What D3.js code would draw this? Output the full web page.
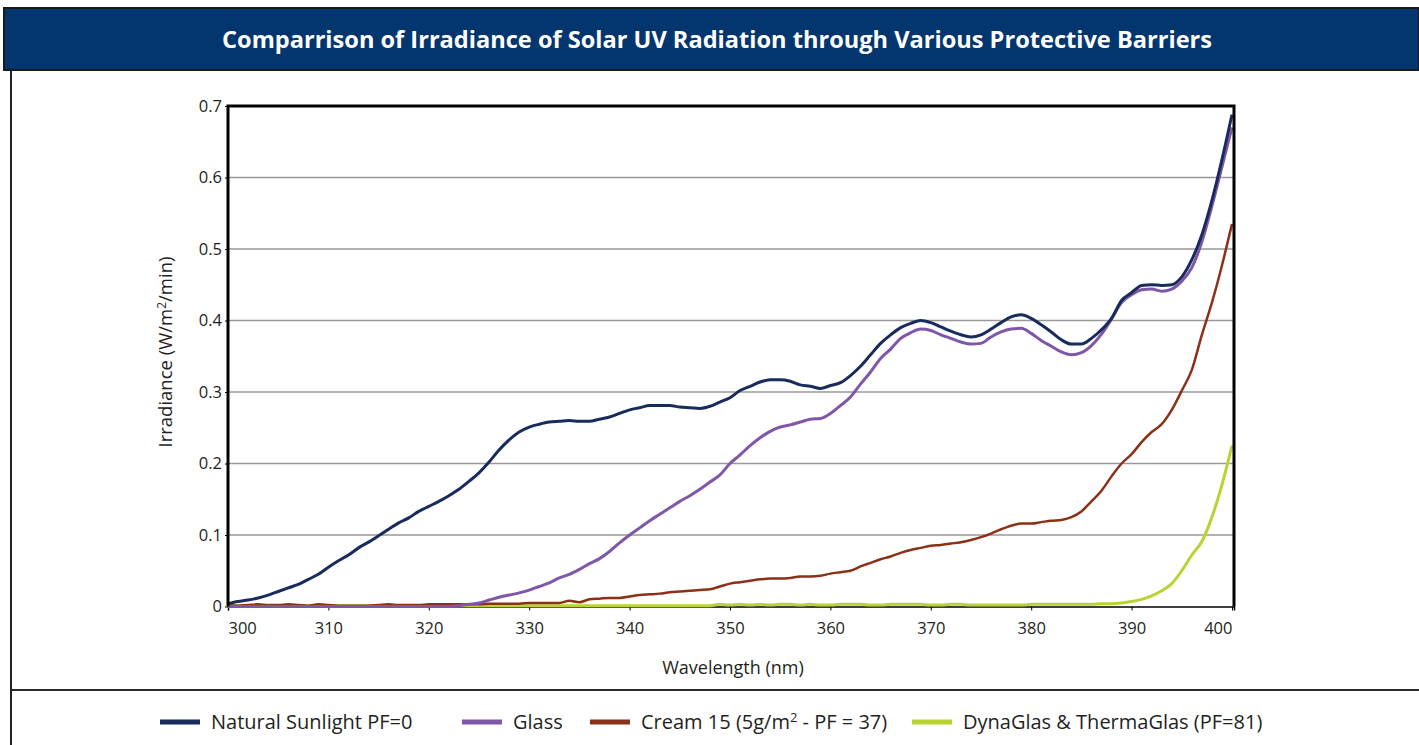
<!DOCTYPE html>
<html>
<head>
<meta charset="utf-8">
<script src="https://cdn.jsdelivr.net/npm/d3@7"></script>
<style>
  body { margin: 0; background: #fff; }
  svg { display: block; font-family: "Open Sans", "DejaVu Sans", sans-serif; }
</style>
</head>
<body>
<div id="chart"></div>
<script>
// wavelength (nm), one reading per nm
var wavelengths = d3.range(300, 401);

var sunlight = [0.004,0.007,0.009,0.012,0.016,0.021,0.026,0.031,0.038,0.045,
  0.055,0.064,0.072,0.082,0.090,0.099,0.108,0.117,0.124,0.133,
  0.140,0.147,0.155,0.164,0.175,0.187,0.202,0.219,0.233,0.244,
  0.251,0.255,0.258,0.259,0.260,0.259,0.259,0.262,0.265,0.270,
  0.275,0.278,0.281,0.281,0.281,0.279,0.278,0.277,0.280,0.286,
  0.292,0.302,0.308,0.314,0.317,0.317,0.315,0.310,0.308,0.305,
  0.309,0.313,0.323,0.336,0.352,0.368,0.380,0.390,0.396,0.400,
  0.397,0.391,0.385,0.380,0.377,0.380,0.388,0.397,0.405,0.408,
  0.403,0.394,0.384,0.373,0.367,0.367,0.375,0.387,0.403,0.428,
  0.439,0.449,0.450,0.449,0.450,0.461,0.485,0.520,0.568,0.625,
  0.688];

var glass = [0,0,0,0,0,0,0,0,0,0,
  0,0,0,0,0,0,0,0,0,0,
  0,0,0,0.001,0.003,0.005,0.009,0.013,0.016,0.019,
  0.023,0.028,0.033,0.040,0.045,0.052,0.060,0.067,0.077,0.089,
  0.100,0.110,0.120,0.129,0.138,0.147,0.155,0.164,0.174,0.184,
  0.200,0.212,0.225,0.236,0.245,0.251,0.254,0.258,0.262,0.263,
  0.270,0.281,0.293,0.311,0.328,0.347,0.360,0.375,0.383,0.388,
  0.386,0.380,0.375,0.370,0.367,0.368,0.377,0.384,0.388,0.389,
  0.382,0.372,0.364,0.356,0.352,0.355,0.365,0.381,0.402,0.425,
  0.436,0.443,0.444,0.441,0.444,0.455,0.474,0.510,0.560,0.615,
  0.670];

var cream = [0.002,0.001,0.002,0.003,0.002,0.002,0.003,0.002,0.001,0.003,
  0.002,0.001,0.001,0.001,0.001,0.002,0.003,0.002,0.002,0.002,
  0.003,0.003,0.003,0.003,0.003,0.003,0.004,0.004,0.004,0.004,
  0.005,0.005,0.005,0.005,0.008,0.006,0.010,0.011,0.012,0.012,
  0.014,0.016,0.017,0.018,0.020,0.021,0.022,0.023,0.024,0.028,
  0.032,0.034,0.036,0.038,0.039,0.039,0.040,0.042,0.042,0.043,
  0.046,0.048,0.050,0.056,0.061,0.066,0.070,0.075,0.079,0.082,
  0.085,0.086,0.088,0.090,0.093,0.097,0.102,0.108,0.113,0.116,
  0.116,0.118,0.120,0.121,0.125,0.133,0.147,0.162,0.182,0.200,
  0.213,0.230,0.244,0.255,0.275,0.302,0.331,0.380,0.425,0.477,
  0.535];

var dynaglas = [0.001,0.001,0.001,0.001,0.001,0.001,0.001,0.001,0.001,0.001,
  0.001,0.001,0.001,0.001,0.001,0.001,0.001,0.001,0.001,0.001,
  0.001,0.001,0.001,0.001,0.001,0.001,0.001,0.001,0.001,0.001,
  0.001,0.001,0.001,0.001,0.001,0.001,0.001,0.001,0.001,0.001,
  0.001,0.001,0.001,0.001,0.001,0.001,0.001,0.001,0.001,0.003,
  0.002,0.003,0.002,0.003,0.002,0.003,0.003,0.002,0.003,0.002,
  0.002,0.003,0.003,0.003,0.002,0.002,0.003,0.003,0.003,0.003,
  0.002,0.002,0.003,0.003,0.002,0.002,0.002,0.002,0.002,0.002,
  0.003,0.003,0.003,0.003,0.003,0.003,0.003,0.004,0.004,0.005,
  0.007,0.010,0.015,0.022,0.032,0.050,0.072,0.091,0.125,0.170,
  0.225];

var seriesNames = ["Natural Sunlight PF=0", "Glass", "Cream 15 (5g/m2 - PF = 37)", "DynaGlas & ThermaGlas (PF=81)"];
var seriesColors = ["#172b5c", "#8057a8", "#8b3117", "#b9d334"];
var xTicks = [300, 310, 320, 330, 340, 350, 360, 370, 380, 390, 400];
var yTicks = [0, 0.1, 0.2, 0.3, 0.4, 0.5, 0.6, 0.7];

var W = 1419, H = 745;
var svg = d3.select("#chart").append("svg")
    .attr("width", W)
    .attr("height", H);

// title band
svg.append("rect")
    .attr("x", 4).attr("y", 8).attr("width", W - 4).attr("height", 62)
    .attr("fill", "#03366f")
    .attr("stroke", "#1a1a1a").attr("stroke-width", 2);
svg.append("text")
    .attr("x", 717).attr("y", 48)
    .attr("text-anchor", "middle")
    .attr("font-size", 23).attr("font-weight", "bold")
    .attr("fill", "#fff")
    .attr("textLength", 990).attr("lengthAdjust", "spacingAndGlyphs")
    .text("Comparrison of Irradiance of Solar UV Radiation through Various Protective Barriers");

// outer frame lines
svg.append("line").attr("x1", 11).attr("x2", 11).attr("y1", 70).attr("y2", H)
    .attr("stroke", "#222").attr("stroke-width", 2);
svg.append("line").attr("x1", 11).attr("x2", W).attr("y1", 690).attr("y2", 690)
    .attr("stroke", "#2a2a2a").attr("stroke-width", 2);

var x = d3.scaleLinear().domain([300, 400.2]).range([228, 1234]);
var y = d3.scaleLinear().domain([0, 0.7]).range([606.5, 106]);

// gridlines
svg.append("g")
  .selectAll("line")
  .data(yTicks.filter(function(d) { return d > 0 && d < 0.7; }))
  .enter()
  .append("line")
    .attr("x1", x(300)).attr("x2", x(400.2))
    .attr("y1", function(d) { return y(d); })
    .attr("y2", function(d) { return y(d); })
    .attr("stroke", "#999").attr("stroke-width", 1.5);

// x axis
var xAxis = svg.append("g")
    .attr("transform", "translate(0," + y(0) + ")")
    .call(d3.axisBottom(x).tickValues(xTicks).tickSize(4).tickPadding(12).tickFormat(d3.format("d")));
xAxis.select(".domain").attr("stroke", "#000").attr("stroke-width", 1.5);
xAxis.selectAll("line").attr("stroke", "#000");
xAxis.selectAll("text")
    .attr("font-size", 16.5).attr("fill", "#231f20")
    .attr("font-family", "'Open Sans', sans-serif")
    .attr("text-anchor", function(d) { return d === 300 ? "start" : (d === 400 ? "end" : "middle"); });

// y axis
var yAxis = svg.append("g")
    .attr("transform", "translate(" + x(300) + ",0)")
    .call(d3.axisLeft(y).tickValues(yTicks).tickSize(3).tickPadding(3)
      .tickFormat(function(d) { return d === 0 ? "0" : d3.format(".1f")(d); }));
yAxis.select(".domain").remove();
yAxis.selectAll("line").attr("stroke", "#000");
yAxis.selectAll("text")
    .attr("font-size", 16.5).attr("fill", "#231f20")
    .attr("font-family", "'Open Sans', sans-serif");

// series lines
var rows = wavelengths.map(function(w, i) {
  return { w: w, v: [sunlight[i], glass[i], cream[i], dynaglas[i]] };
});
var line = function(k) {
  return d3.line()
    .x(function(d) { return x(d.w); })
    .y(function(d) { return y(d.v[k]); })
    .curve(d3.curveMonotoneX);
};
var widths = [3, 3, 2.5, 3];
[3, 2, 1, 0].forEach(function(k) {
  svg.append("path")
    .datum(rows)
    .attr("fill", "none")
    .attr("stroke", seriesColors[k])
    .attr("stroke-width", widths[k])
    .attr("stroke-linejoin", "round")
    .attr("d", line(k));
});

// plot frame (left, top, right)
svg.append("path")
    .attr("d", "M" + x(300) + "," + y(0) + "V" + y(0.7) + "H" + x(400.2) + "V" + y(0))
    .attr("fill", "none").attr("stroke", "#000").attr("stroke-width", 3);

// axis titles
var yt = svg.append("text")
    .attr("transform", "translate(172,352) rotate(-90)")
    .attr("text-anchor", "middle")
    .attr("font-size", 18.5).attr("fill", "#231f20");
yt.append("tspan").text("Irradiance (W/m");
yt.append("tspan").attr("font-size", 12).attr("dy", -6).text("2");
yt.append("tspan").attr("dy", 6).text("/min)");

svg.append("text")
    .attr("x", 733).attr("y", 674)
    .attr("text-anchor", "middle")
    .attr("font-size", 18).attr("fill", "#231f20")
    .text("Wavelength (nm)");

// legend
var legendX = [160, 462, 590, 912];
var legend = svg.append("g");
seriesNames.forEach(function(name, i) {
  legend.append("line")
    .attr("x1", legendX[i]).attr("x2", legendX[i] + 40)
    .attr("y1", 722).attr("y2", 722)
    .attr("stroke", seriesColors[i]).attr("stroke-width", 5);
  var t = legend.append("text")
    .attr("x", legendX[i] + 51).attr("y", 729)
    .attr("font-size", 20).attr("fill", "#231f20");
  if (i === 2) {
    t.append("tspan").text("Cream 15 (5g/m");
    t.append("tspan").attr("font-size", 13).attr("dy", -7).text("2");
    t.append("tspan").attr("dy", 7).text(" - PF = 37)");
  } else {
    t.text(name);
  }
});
</script>
</body>
</html>
